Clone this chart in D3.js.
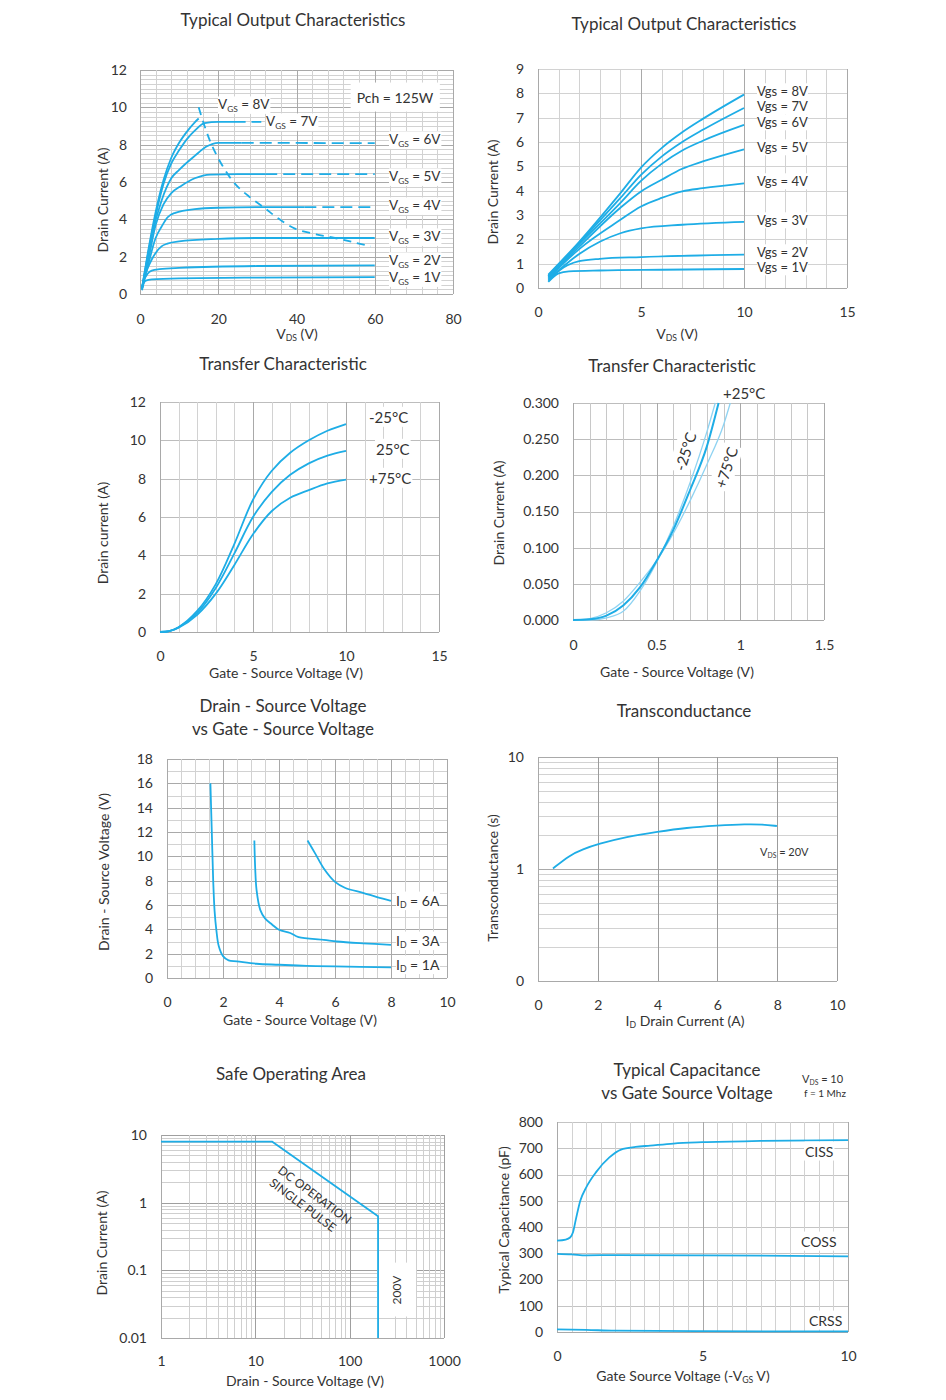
<!DOCTYPE html>
<html><head><meta charset="utf-8">
<script src="https://cdn.jsdelivr.net/npm/d3@7/dist/d3.min.js"></script>
<style>
body{margin:0;background:#fff}
text{font-family:Lato,'Open Sans',sans-serif;fill:#333}
</style>
</head><body>
<svg id="chart" width="946" height="1400"></svg>
<script>
// ---------- DATA ----------
// Panel 1: Typical Output Characteristics (0-80 V)
const p1XTicks = [0,20,40,60,80];
const p1YTicks = [0,2,4,6,8,10,12];
const p1Vgs1 = [[0.5,0.2],[1,0.6],[1.5,0.72],[3,0.78],[10,0.84],[30,0.88],[60,0.9]];
const p1Vgs2 = [[0.5,0.25],[1,0.7],[2,1.1],[3,1.25],[5,1.33],[10,1.4],[30,1.5],[60,1.53]];
const p1Vgs3 = [[0.5,0.3],[1,0.8],[2,1.4],[3,1.85],[4,2.2],[5.5,2.55],[7,2.7],[10,2.82],[20,2.95],[30,3.0],[60,3.0]];
const p1Vgs4 = [[0.5,0.3],[2,1.5],[4,3.0],[5.5,3.6],[7,4.1],[9,4.35],[14,4.55],[20,4.62],[30,4.65],[42,4.65]];
const p1Vgs4Dash = [[42,4.65],[60,4.65]];
const p1Vgs5 = [[0.5,0.3],[2,1.7],[4,3.7],[6,4.8],[8,5.4],[10.6,5.8],[14,6.2],[18,6.4],[25,6.42],[32,6.42]];
const p1Vgs5Dash = [[32,6.42],[60,6.42]];
const p1Vgs6 = [[0.5,0.3],[2,2.0],[3,3.1],[5.5,5.0],[8,6.2],[10,6.65],[14,7.4],[17,7.9],[20,8.1],[26,8.1]];
const p1Vgs6Dash = [[26,8.1],[60,8.08]];
const p1Vgs7 = [[0.5,0.3],[2,2.1],[4,4.2],[6,5.9],[8,7.0],[10,7.7],[12,8.3],[14,8.75],[16.5,9.15],[20,9.22],[27,9.22]];
const p1Vgs7Dash = [[28.5,9.22],[31,9.22]];
const p1Vgs8 = [[0.5,0.3],[2,2.2],[4,4.4],[6,6.1],[8,7.3],[10,8.1],[12,8.7],[14,9.2],[15,9.4]];
const p1Pch = [[15,10],[16.5,9],[18.3,8],[21,6.9],[24.3,5.9],[28,5.2],[31.9,4.6],[35,4.1],[39.6,3.5],[45,3.2],[49.8,3.0],[55,2.75],[59,2.55]];
const p1Labels = ['6V','5V','4V','3V','2V','1V'];

// Panel 2: Typical Output Characteristics (0-15 V)
const p2XTicks = [0,5,10,15];
const p2YTicks = [0,1,2,3,4,5,6,7,8,9];
const p2Vgs1 = [[0.5,0.25],[1,0.6],[1.5,0.68],[3,0.72],[6,0.75],[10,0.78]];
const p2Vgs2 = [[0.5,0.3],[1,0.7],[2,1.1],[3,1.2],[5,1.27],[10,1.37]];
const p2Vgs3 = [[0.5,0.35],[2,1.4],[3,1.9],[4,2.25],[5,2.45],[7,2.6],[10,2.72]];
const p2Vgs4 = [[0.5,0.4],[2,1.6],[4,2.8],[5,3.35],[6,3.7],[7,3.97],[8,4.1],[10,4.3]];
const p2Vgs5 = [[0.5,0.45],[2,1.7],[4,3.3],[5,3.97],[6,4.45],[7,4.9],[8,5.2],[10,5.7]];
const p2Vgs6 = [[0.5,0.5],[2,1.8],[4,3.5],[5,4.4],[6,5.1],[7,5.65],[8,6.05],[10,6.7]];
const p2Vgs7 = [[0.5,0.5],[2,1.85],[4,3.7],[5,4.65],[6,5.4],[7,6.0],[8,6.5],[10,7.4]];
const p2Vgs8 = [[0.5,0.55],[2,1.9],[4,3.9],[5,4.95],[6,5.75],[7,6.4],[8,6.95],[10,7.95]];
const p2Labels = ['8V','7V','6V','5V','4V','3V','2V','1V'];

// Panel 3: Transfer Characteristic (0-15 V)
const p3XTicks = [0,5,10,15];
const p3YTicks = [0,2,4,6,8,10,12];
const p3TempM25 = [[0,0],[0.5,0.05],[1,0.25],[2,1.1],[3,2.5],[4,4.6],[5,6.9],[6,8.4],[7,9.35],[8,10.0],[9,10.5],[10,10.85]];
const p3Temp25 = [[0,0],[0.5,0.05],[1,0.25],[2,1.0],[3,2.3],[4,4.1],[5,6.0],[6,7.3],[7,8.2],[8,8.8],[9,9.2],[10,9.45]];
const p3Temp75 = [[0,0],[0.5,0.05],[1,0.22],[2,0.9],[3,2.0],[4,3.5],[5,5.1],[6,6.3],[7,7.0],[8,7.4],[9,7.75],[10,7.95]];
const p3Labels = ['-25°C','25°C','+75°C'];

// Panel 4: Transfer Characteristic (0-1.5 V)
const p4XTicks = [0,0.5,1,1.5];
const p4YTicks = [0,0.05,0.1,0.15,0.2,0.25,0.3];
const p4Temp25 = [[0,0],[0.1,0.001],[0.2,0.006],[0.3,0.02],[0.4,0.045],[0.5,0.082],[0.6,0.125],[0.7,0.18],[0.8,0.24],[0.87,0.3]];
const p4TempM25 = [[0,0],[0.1,0],[0.2,0.003],[0.3,0.012],[0.4,0.04],[0.5,0.08],[0.6,0.13],[0.7,0.19],[0.8,0.26],[0.85,0.3]];
const p4Temp75 = [[0,0],[0.1,0.002],[0.2,0.01],[0.3,0.026],[0.4,0.052],[0.5,0.082],[0.6,0.12],[0.7,0.165],[0.8,0.215],[0.9,0.27],[0.94,0.3]];

// Panel 5: Drain-Source Voltage vs Gate-Source Voltage
const p5XTicks = [0,2,4,6,8,10];
const p5YTicks = [0,2,4,6,8,10,12,14,16,18];
const p5Id1 = [[1.55,16],[1.6,12],[1.65,8],[1.7,5.5],[1.76,4.0],[1.85,2.6],[2.0,1.8],[2.2,1.45],[2.5,1.37],[3.2,1.17],[4,1.09],[5,1.0],[6,0.95],[8,0.87]];
const p5Id3 = [[3.12,11.3],[3.15,9],[3.2,7.2],[3.33,5.6],[3.5,4.9],[3.75,4.4],[4,3.96],[4.4,3.7],[4.7,3.36],[5.6,3.14],[6.07,3.0],[7,2.85],[8,2.73]];
const p5Id6 = [[5.02,11.3],[5.3,10.2],[5.6,9.0],[6.0,7.9],[6.37,7.4],[7.0,7.0],[7.5,6.65],[8,6.34]];
const p5Labels = ['6A','3A','1A'];

// Panel 6: Transconductance
const p6XTicks = [0,2,4,6,8,10];
const p6YTicks = [0.1,1,10];
const p6YTickText = ['0','1','10'];
const p6Gfs = [[0.5,1.01],[1.06,1.33],[1.5,1.5],[2.0,1.67],[2.96,1.94],[4.0,2.15],[4.97,2.34],[5.98,2.44],[6.98,2.52],[7.5,2.5],[7.99,2.42]];

// Panel 7: Safe Operating Area
const p7XTicks = [1,10,100,1000];
const p7YTicks = [0.01,0.1,1,10];
const p7Soa = [[1,8],[15,8],[200,0.63],[200,0.01]];

// Panel 8: Typical Capacitance
const p8XTicks = [0,5,10];
const p8YTicks = [0,100,200,300,400,500,600,700,800];
const p8Ciss = [[0,348],[0.3,352],[0.45,360],[0.55,380],[0.65,430],[0.8,500],[1.0,550],[1.35,610],[1.8,665],[2.2,695],[2.7,705],[3.2,710],[4,718],[5,723],[7,728],[10,731]];
const p8Coss = [[0,298],[0.5,296],[1,292],[2,293],[5,292],[8,290],[10,288]];
const p8Crss = [[0,10],[1,8],[2,5],[5,3],[10,2]];

// ---------- DRAWING ----------
const BLUE = '#1eade6';
const LIGHTBLUE = '#8fd3f2';
const MINOR = '#d2d2d2';
const MAJOR = '#a9a9a9';
const svg = d3.select('#chart');

function stepVals(dom, step){
  const n = Math.round((dom[1]-dom[0])/step);
  return d3.range(n+1).map(i => +(dom[0]+i*step).toFixed(6));
}
function logVals(dom){
  const a = Math.round(Math.log10(dom[0])), b = Math.round(Math.log10(dom[1]));
  const out = [];
  for(let d=a; d<b; d++) for(let k=1;k<10;k++) out.push(+(k*Math.pow(10,d)).toPrecision(6));
  out.push(dom[1]);
  return out;
}
function isMult(v, m){ const r = v/m; return Math.abs(r-Math.round(r))<1e-6; }
function isDecade(v){ const l=Math.log10(v); return Math.abs(l-Math.round(l))<1e-6; }

function panel(o){
  const g = svg.append('g');
  const x = (o.xLog ? d3.scaleLog() : d3.scaleLinear()).domain(o.xDomain).range(o.xRange);
  const y = (o.yLog ? d3.scaleLog() : d3.scaleLinear()).domain(o.yDomain).range(o.yRange);
  const vVals = o.xLog ? logVals(o.xDomain) : stepVals(o.xDomain, o.xMinor);
  const hVals = o.yLog ? logVals(o.yDomain) : stepVals(o.yDomain, o.yMinor);
  const vMaj = d => o.xLog ? isDecade(d) : (o.xMajor ? isMult(d,o.xMajor) : false);
  const hMaj = d => o.yLog ? isDecade(d) : (o.yMajor ? isMult(d,o.yMajor) : false);
  const grid = g.append('g');
  grid.selectAll('line.h').data(hVals.slice().sort((a,b)=>hMaj(a)-hMaj(b))).join('line').attr('class','h')
    .attr('x1',o.xRange[0]).attr('x2',o.xRange[1]).attr('y1',d=>Math.round(y(d))+0.5).attr('y2',d=>Math.round(y(d))+0.5)
    .attr('stroke',d=> hMaj(d) ? (o.hMajorColor||MAJOR) : (o.hMinorColor||MINOR)).attr('stroke-width',1);
  grid.selectAll('line.v').data(vVals.slice().sort((a,b)=>vMaj(a)-vMaj(b))).join('line').attr('class','v')
    .attr('y1',o.yRange[0]).attr('y2',o.yRange[1]).attr('x1',d=>Math.round(x(d))+0.5).attr('x2',d=>Math.round(x(d))+0.5)
    .attr('stroke',d=> vMaj(d) ? (o.vMajorColor||MAJOR) : (o.vMinorColor||MINOR)).attr('stroke-width',1);
  g.append('line').attr('x1',o.xRange[0]).attr('x2',o.xRange[1]).attr('y1',Math.round(o.yRange[0])+0.5).attr('y2',Math.round(o.yRange[0])+0.5).attr('stroke',MAJOR);
  g.append('line').attr('x1',Math.round(o.xRange[0])+0.5).attr('x2',Math.round(o.xRange[0])+0.5).attr('y1',o.yRange[0]).attr('y2',o.yRange[1]).attr('stroke',MAJOR);
  const ax = g.append('g').attr('transform',`translate(0,${o.yRange[0]})`)
    .call(d3.axisBottom(x).tickValues(o.xTicks).tickFormat(o.xFmt||(d=>d)).tickSize(0).tickPadding(o.xPad||19));
  const ay = g.append('g').attr('transform',`translate(${o.xRange[0]},0)`)
    .call(d3.axisLeft(y).tickValues(o.yTicks).tickFormat(o.yFmt||(d=>d)).tickSize(0).tickPadding(o.yPad||14));
  [ax,ay].forEach(a=>{ a.select('.domain').remove(); a.selectAll('text').attr('font-size',14).attr('fill','#3a3a3a').style('font-family','Lato,"Open Sans",sans-serif'); });
  g.x = x; g.y = y;
  return g;
}

function curve(g, data, opt={}){
  const line = d3.line().x(d=>g.x(d[0])).y(d=>g.y(d[1])).curve(opt.curve || d3.curveMonotoneX);
  return g.append('path').datum(data).attr('d',line).attr('fill','none')
    .attr('stroke',opt.color||BLUE).attr('stroke-width',opt.width||1.8)
    .attr('stroke-dasharray',opt.dash||null).attr('stroke-linejoin','round');
}

function rich(parent, x, y, parts, o={}){
  const t = parent.append('text').attr('x',x).attr('y',y).attr('font-size',o.size||14)
    .attr('text-anchor',o.anchor||'start').attr('dominant-baseline','middle').attr('fill',o.fill||'#333');
  if(o.rotate!=null) t.attr('transform',`rotate(${o.rotate},${x},${y})`);
  let prevSub=false;
  const fs = o.size||14;
  parts.forEach(p=>{
    const sub = p[1]==='sub';
    const ts = t.append('tspan').text(p[0]);
    if(sub){ ts.attr('font-size',fs*0.62).attr('dy',fs*0.28); }
    else if(prevSub){ ts.attr('dy',-fs*0.28); }
    prevSub = sub;
  });
  if(o.bg){
    const b = t.node().getBBox();
    const pad = o.pad||0;
    parent.insert('rect', () => t.node()).attr('x',b.x-pad).attr('y',b.y-pad).attr('width',b.width+2*pad).attr('height',b.height+2*pad)
      .attr('fill','#fff').attr('transform', o.rotate!=null ? `rotate(${o.rotate},${x},${y})` : null);
  }
  return t;
}
function title(txt,x,y,size){ return rich(svg,x,y,[[txt]],{anchor:'middle',size:size||17,fill:'#333'}); }

// ===== Panel 1 =====
{
  const g = panel({xDomain:[0,80],xRange:[140,453],yDomain:[0,12],yRange:[294,70],xMinor:4,xMajor:20,yMinor:0.25,yMajor:2,
    xTicks:p1XTicks,yTicks:p1YTicks,xPad:20,yPad:13});
  rich(g,395,99,[['Pch = 125W']],{anchor:'middle',size:14,bg:true,pad:6});
  [p1Vgs1,p1Vgs2,p1Vgs3,p1Vgs4,p1Vgs5,p1Vgs6,p1Vgs7,p1Vgs8].forEach(d=>curve(g,d));
  [p1Vgs4Dash,p1Vgs5Dash,p1Vgs6Dash,p1Vgs7Dash].forEach(d=>curve(g,d,{dash:'12,6'}));
  curve(g,p1Pch,{dash:'8,6',curve:d3.curveCatmullRom});
  rich(g,218,106,[['V'],['GS','sub'],[' = 8V']],{size:13.5,bg:true});
  rich(g,266,123,[['V'],['GS','sub'],[' = 7V']],{size:13.5,bg:true});
  const ly = [141,178,207,238,262,279];
  p1Labels.forEach((l,i)=>rich(g,389,ly[i],[['V'],['GS','sub'],[' = '+l]],{size:13.5,bg:true}));
  rich(svg,104,200,[['Drain Current (A)']],{anchor:'middle',rotate:-90,size:14});
  rich(svg,297,335,[['V'],['DS','sub'],['  (V)']],{anchor:'middle',size:14});
  title('Typical Output Characteristics',293,22);
}
// ===== Panel 2 =====
{
  const g = panel({xDomain:[0,15],xRange:[538,847],yDomain:[0,9],yRange:[288,69],xMinor:1,xMajor:5,yMinor:1,
    xTicks:p2XTicks,yTicks:p2YTicks,xPad:19,yPad:14});
  [p2Vgs1,p2Vgs2,p2Vgs3,p2Vgs4,p2Vgs5,p2Vgs6,p2Vgs7,p2Vgs8].forEach(d=>curve(g,d));
  const ly = [93,108,124,149,183,222,254,269];
  p2Labels.forEach((l,i)=>rich(g,757,ly[i],[['Vgs = '+l]],{size:13,bg:true}));
  rich(svg,494,192,[['Drain Current (A)']],{anchor:'middle',rotate:-90,size:14});
  rich(svg,677,335,[['V'],['DS','sub'],[' (V)']],{anchor:'middle',size:14});
  title('Typical Output Characteristics',684,26);
}
// ===== Panel 3 =====
{
  const g = panel({xDomain:[0,15],xRange:[160,439],yDomain:[0,12],yRange:[632,402],xMinor:1,xMajor:5,yMinor:2,
    xTicks:p3XTicks,yTicks:p3YTicks,xPad:19,yPad:14,hMinorColor:'#bdbdbd'});
  [p3TempM25,p3Temp25,p3Temp75].forEach(d=>curve(g,d,{curve:d3.curveCatmullRom.alpha(0.5)}));
  const lx=[369,376,369], ly=[419,451,480];
  p3Labels.forEach((l,i)=>rich(g,lx[i],ly[i],[[l]],{size:15,bg:true,pad:1}));
  rich(svg,104,533,[['Drain current (A)']],{anchor:'middle',rotate:-90,size:14});
  rich(svg,286,674,[['Gate - Source Voltage (V)']],{anchor:'middle',size:14});
  title('Transfer Characteristic',283,366);
}
// ===== Panel 4 =====
{
  const g = panel({xDomain:[0,1.5],xRange:[573,824],yDomain:[0,0.3],yRange:[620,403],xMinor:0.1,xMajor:0.5,yMinor:0.05,
    xTicks:p4XTicks,yTicks:p4YTicks,yFmt:d3.format('.3f'),xPad:20,yPad:14,hMinorColor:'#bdbdbd',vMinorColor:'#c8c8c8'});
  rich(g,687,452,[['-25°C']],{anchor:'middle',size:15,rotate:-72,bg:true,pad:2});
  rich(g,728,468,[['+75°C']],{anchor:'middle',size:15,rotate:-72,bg:true,pad:2});
  curve(g,p4TempM25,{color:LIGHTBLUE,width:1.3});
  curve(g,p4Temp75,{color:LIGHTBLUE,width:1.3});
  curve(g,p4Temp25,{color:BLUE,width:2});
  rich(g,723,395,[['+25°C']],{size:15,bg:true,pad:1});
  rich(svg,500,513,[['Drain Current  (A)']],{anchor:'middle',rotate:-90,size:14});
  rich(svg,677,673,[['Gate - Source Voltage  (V)']],{anchor:'middle',size:14});
  title('Transfer Characteristic',672,368);
}
// ===== Panel 5 =====
{
  const g = panel({xDomain:[0,10],xRange:[167,447],yDomain:[0,18],yRange:[978,759],xMinor:0.5,xMajor:2,yMinor:1,yMajor:2,
    xTicks:p5XTicks,yTicks:p5YTicks,xPad:19,yPad:14});
  [p5Id1,p5Id3,p5Id6].forEach(d=>curve(g,d,{curve:d3.curveCatmullRom.alpha(0.5)}));
  const ly=[902,942,966];
  p5Labels.forEach((l,i)=>rich(g,396,ly[i],[['I'],['D','sub'],[' = '+l]],{size:14,bg:true}));
  rich(svg,105,872,[['Drain - Source Voltage  (V)']],{anchor:'middle',rotate:-90,size:14});
  rich(svg,300,1021,[['Gate - Source Voltage  (V)']],{anchor:'middle',size:14});
  title('Drain - Source Voltage',283,708);
  title('vs Gate - Source Voltage',283,731);
}
// ===== Panel 6 =====
{
  const g = panel({xDomain:[0,10],xRange:[538,837],yLog:true,yDomain:[0.1,10],yRange:[981,757],xMinor:2,xMajor:2,
    xTicks:p6XTicks,yTicks:p6YTicks,yFmt:(d,i)=>p6YTickText[i],xPad:19,yPad:14,vMajorColor:'#9c9c9c'});
  curve(g,p6Gfs,{curve:d3.curveBasis});
  rich(g,760,853,[['V'],['DS','sub'],[' = 20V']],{size:11});
  rich(svg,494,878,[['Transconductance  (s)']],{anchor:'middle',rotate:-90,size:14});
  rich(svg,685,1022,[['I'],['D','sub'],['  Drain Current (A)']],{anchor:'middle',size:14});
  title('Transconductance',684,713);
}
// ===== Panel 7 =====
{
  const g = panel({xLog:true,xDomain:[1,1000],xRange:[161,444],yLog:true,yDomain:[0.01,10],yRange:[1338,1135],
    xTicks:p7XTicks,yTicks:p7YTicks,xPad:18,yPad:14,hMinorColor:'#cfcfcf',vMinorColor:'#cfcfcf',hMajorColor:'#9f9f9f',vMajorColor:'#9f9f9f'});
  rich(g,398,1290,[['200V']],{anchor:'middle',size:12,rotate:-90,bg:true,pad:12});
  curve(g,p7Soa,{curve:d3.curveLinear,width:1.8});
  rich(g,314,1196,[['DC OPERATION']],{anchor:'middle',size:12,rotate:37});
  rich(g,302,1206,[['SINGLE PULSE']],{anchor:'middle',size:12,rotate:37});
  rich(svg,103,1243,[['Drain Current  (A)']],{anchor:'middle',rotate:-90,size:14});
  rich(svg,305,1382,[['Drain - Source Voltage (V)']],{anchor:'middle',size:14});
  title('Safe Operating Area',291,1076);
}
// ===== Panel 8 =====
{
  const g = panel({xDomain:[0,10],xRange:[557,848],yDomain:[0,800],yRange:[1332,1122],xMinor:0.5,xMajor:5,yMinor:100,
    xTicks:p8XTicks,yTicks:p8YTicks,xPad:19,yPad:14,hMinorColor:'#c4c4c4'});
  [p8Ciss,p8Coss,p8Crss].forEach(d=>curve(g,d));
  rich(g,805,1153,[['CISS']],{size:14,bg:true,pad:1});
  rich(g,801,1243,[['COSS']],{size:14,bg:true,pad:1});
  rich(g,809,1322,[['CRSS']],{size:14,bg:true,pad:1});
  rich(svg,505,1220,[['Typical Capacitance  (pF)']],{anchor:'middle',rotate:-90,size:14});
  rich(svg,683,1377,[['Gate Source Voltage (-V'],['GS','sub'],['  V)']],{anchor:'middle',size:14});
  title('Typical Capacitance',687,1072);
  title('vs Gate Source Voltage',687,1095);
  rich(svg,802,1080,[['V'],['DS','sub'],[' = 10']],{size:11});
  rich(svg,804,1094,[['f = 1 Mhz']],{size:10});
}
</script>
</body></html>
